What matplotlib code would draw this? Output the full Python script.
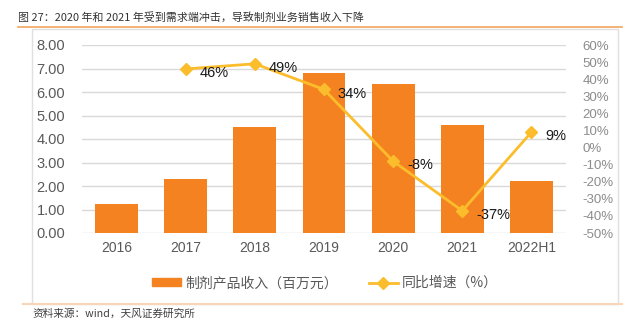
import matplotlib
matplotlib.use('Agg')
import matplotlib.pyplot as plt
from matplotlib.lines import Line2D
from matplotlib.patches import Patch, Rectangle

plt.rcParams['font.family'] = ['Liberation Sans', 'Noto Sans CJK SC', 'DejaVu Sans']

years = ['2016', '2017', '2018', '2019', '2020', '2021', '2022H1']
revenue = [1.23, 2.29, 4.51, 6.82, 6.34, 4.61, 2.21]
growth_years = ['2017', '2018', '2019', '2020', '2021', '2022H1']
growth = [46, 49, 34, -8, -37, 9]
growth_labels = ['46%', '49%', '34%', '-8%', '-37%', '9%']

BAR = '#F58220'
LINE = '#FBBD2C'
GREY = '#595959'
CJK = ['Noto Sans CJK SC', 'DejaVu Sans']

W, H = 631, 326
fig = plt.figure(figsize=(W / 100, H / 100), dpi=100)

# title and frame
fig.text(18 / W, 1 - 17 / H, '图 27：2020 年和 2021 年受到需求端冲击，导致制剂业务销售收入下降',
         family=CJK, fontsize=7.9, color='#333333', va='center', ha='left',
         fontweight='medium')
fig.add_artist(Line2D([18 / W, 622 / W], [1 - 27 / H, 1 - 27 / H], color='#F4A460', lw=1.2))
fig.add_artist(Rectangle((32 / W, 1 - 304 / H), 586 / W, 275 / H, fill=False,
                         ec='#E0E0E0', lw=1))
fig.add_artist(Line2D([23 / W, 622 / W], [1 - 304 / H, 1 - 304 / H], color='#F8D5B8', lw=1.5))
fig.text(32 / W, 1 - 314 / H, '资料来源：wind，天风证券研究所', family=CJK, fontsize=7.7,
         color='#404040', va='center', ha='left')

ax = fig.add_axes([82 / W, 1 - 233 / H, 484 / W, 188 / H])
x = list(range(len(years)))
ax.bar(x, revenue, width=0.62, color=BAR, zorder=2)
ax.set_xlim(-0.5, len(years) - 0.5)
ax.set_ylim(0, 8)
ax.set_yticks(range(0, 9))
ax.set_yticklabels([f'{v:.2f}' for v in range(0, 9)])
ax.set_xticks(x)
ax.set_xticklabels(years)
ax.grid(axis='y', color='#D9D9D9', lw=1, zorder=0)
ax.tick_params(axis='y', length=0, pad=12, labelsize=10.5, labelcolor=GREY)
ax.tick_params(axis='x', length=0, pad=6, labelsize=10, labelcolor=GREY)
for s in ax.spines.values():
    s.set_visible(False)

ax2 = ax.twinx()
gx = [years.index(y) for y in growth_years]
ax2.plot(gx, growth, color=LINE, lw=2, marker='D', ms=6, zorder=3)
ax2.set_ylim(-50, 60)
ticks = list(range(-50, 61, 10))
ax2.set_yticks(ticks)
ax2.set_yticklabels([f'{t}%' for t in ticks])
ax2.tick_params(axis='y', length=0, pad=12, labelsize=9.5, labelcolor='#8C8C8C')
for s in ax2.spines.values():
    s.set_visible(False)
for xi, yi, lab in zip(gx, growth, growth_labels):
    ax2.annotate(lab, (xi, yi), xytext=(10, -3), textcoords='offset points',
                 fontsize=10.5, color='#1A1A1A', va='center', ha='left')

handles = [Patch(color=BAR), Line2D([], [], color=LINE, lw=2, marker='D', ms=6)]
fig.legend(handles, ['制剂产品收入（百万元）', '同比增速（%）'], loc='center',
           bbox_to_anchor=(325 / W, 1 - 283 / H), ncol=2, frameon=False,
           prop={'family': CJK, 'size': 10}, labelcolor=GREY,
           handlelength=2.1, handleheight=0.5, columnspacing=2.2, handletextpad=0.3)

fig.savefig('out.png', dpi=100)
